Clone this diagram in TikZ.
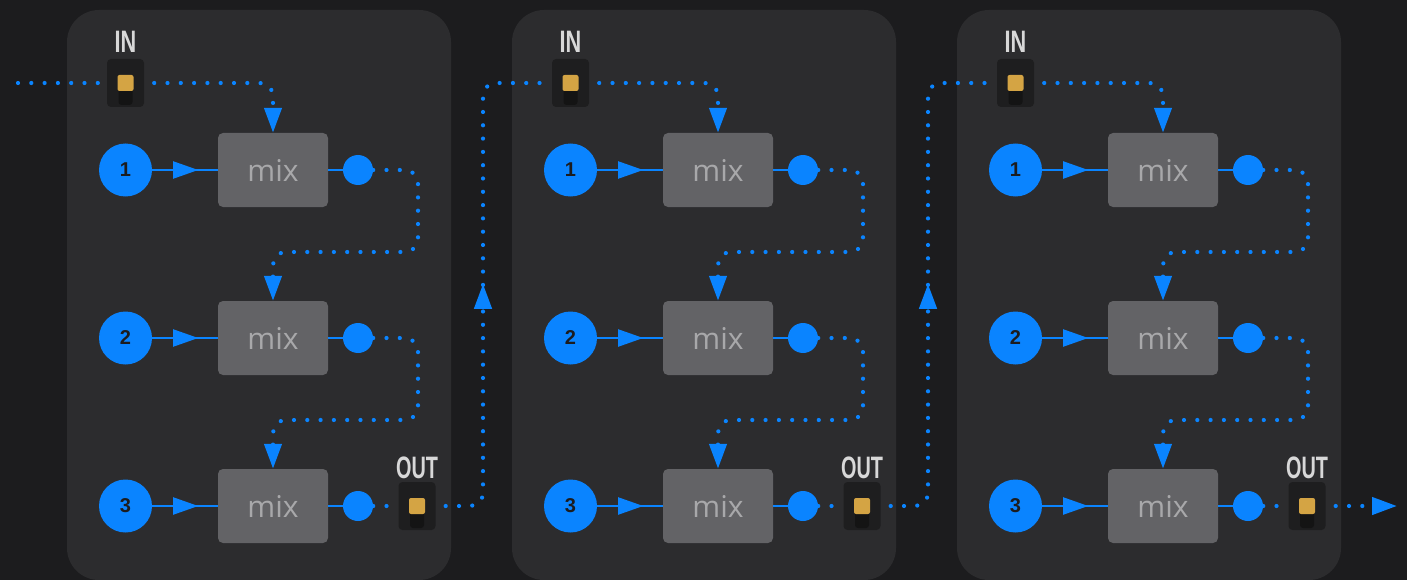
\documentclass[tikz,border=0pt]{standalone}
\usepackage{fontspec}
\setmainfont{Liberation Sans}
\newfontfamily\mixfont{Open Sans}
\usetikzlibrary{arrows.meta,decorations.markings}
\definecolor{bgc}{HTML}{1C1C1E}
\definecolor{panelc}{HTML}{2C2C2E}
\definecolor{portc}{HTML}{1E1E1F}
\definecolor{slotc}{HTML}{141414}
\definecolor{goldc}{HTML}{D4A444}
\definecolor{flowc}{HTML}{0A84FF}
\definecolor{mixc}{HTML}{636366}
\definecolor{mixtxt}{HTML}{A8A8AA}
\definecolor{labelc}{HTML}{D8D8D8}
\tikzset{
  num/.style={circle, fill=flowc, minimum size=53pt, inner sep=0pt, text=bgc, font=\bfseries\fontsize{20}{20}\selectfont},
  mixbox/.style={rectangle, rounded corners=5pt, fill=mixc, minimum width=110pt, minimum height=74pt, inner sep=0pt, text=mixtxt, font=\mixfont\fontsize{30}{30}\selectfont},
  outdot/.style={circle, fill=flowc, minimum size=30pt, inner sep=0pt},
  port/.style={rectangle, rounded corners=4pt, fill=portc, minimum width=37pt, minimum height=48pt, inner sep=0pt},
  portlabel/.style={text=labelc, font=\bfseries\fontsize{31}{31}\selectfont, inner sep=0pt},
  wire/.style={flowc, line width=2pt},
  flow/.style={flowc, line width=4.2pt, line cap=round, dash pattern=on 0pt off 13.3pt, rounded corners=13pt},
  flowtip/.style={-{Triangle[length=25pt,width=17pt]}},
  midtip/.style={postaction={decorate}, decoration={markings, mark=at position #1 with {\arrow{Triangle[length=25pt,width=17pt]}}}},
}
\begin{document}
\begin{tikzpicture}[x=1pt,y=-1pt]
\fill[bgc] (0,0) rectangle (1407,580);
\useasboundingbox (0,0) rectangle (1407,580);
% three identical mixer panels
\foreach \p in {1,2,3} {
\begin{scope}[xshift={(\p-1)*445pt}]
  \fill[panelc, rounded corners=32pt] (67,10) rectangle (451,580);
  % in / out ports
  \node[port] (in\p) at (125.5,83) {};
  \fill[slotc, rounded corners=3pt] (118.5,80) rectangle (132.5,105);
  \fill[goldc, rounded corners=2pt] (117.5,75) rectangle (133.5,91);
  \node[portlabel] at (125.5,42) {\scalebox{0.7}[1]{IN}};
  \node[port] (out\p) at (417,506) {};
  \fill[slotc, rounded corners=3pt] (410,503) rectangle (424,528);
  \fill[goldc, rounded corners=2pt] (409,498) rectangle (425,514);
  \node[portlabel] at (417,468) {\scalebox{0.64}[1]{OUT}};
  % rows
  \foreach \r/\y in {1/170,2/338,3/506} {
    \node[num] (n\p\r) at (125.5,\y) {\r};
    \node[mixbox] (m\p\r) at (273,\y) {mix};
    \node[outdot] (d\p\r) at (358,\y) {};
    \draw[wire, midtip=46pt] (n\p\r) -- (m\p\r);
    \draw[wire] (m\p\r) -- (d\p\r);
  }
  \draw[flow, flowtip, shorten <=10pt] (in\p.east) -| (m\p1.north);
  \draw[flow, flowtip] (d\p1.east) -| (418,252) -| (m\p2.north);
  \draw[flow, flowtip] (d\p2.east) -| (418,420) -| (m\p3.north);
  \draw[flow] (d\p3.east) -- (out\p.west);
\end{scope}
}
% links between panels
\coordinate (start) at (18,83);
\coordinate (end) at (1397,506);
\draw[flow] (start) -- (in1.west);
\draw[flow, midtip=0.5, shorten <=10pt] (out1.east) -| (483,83) -- (in2.west);
\draw[flow, midtip=0.5, shorten <=10pt] (out2.east) -| (928,83) -- (in3.west);
\draw[flow, flowtip, shorten <=10pt] (out3.east) -- (end);
\end{tikzpicture}
\end{document}
